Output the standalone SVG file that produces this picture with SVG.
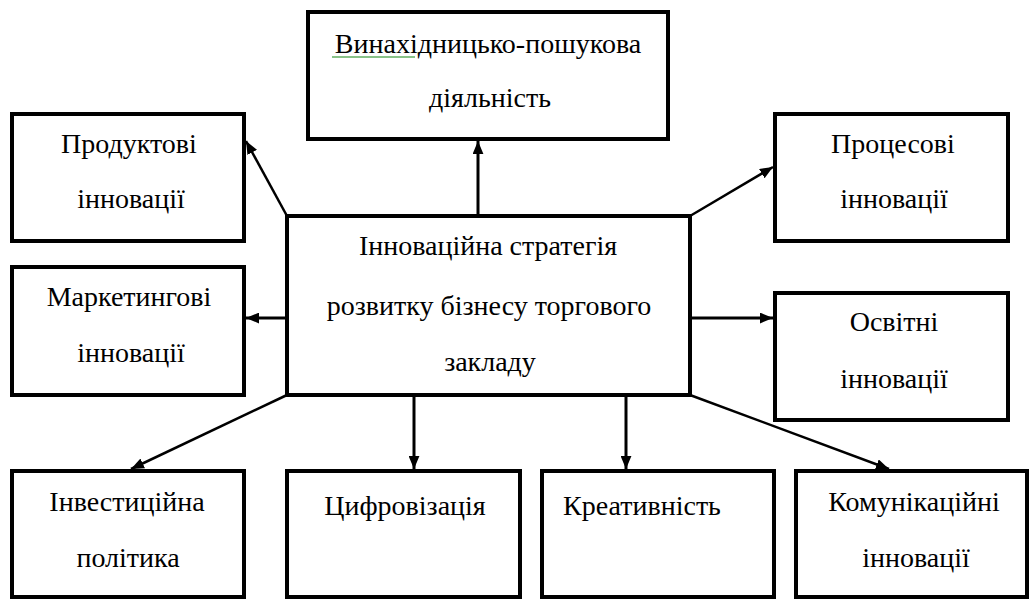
<svg xmlns="http://www.w3.org/2000/svg" width="1029" height="599" viewBox="0 0 1029 599">
<style>
.box{fill:#fff;stroke:#000;stroke-width:4}
.t{font-family:"Liberation Serif","DejaVu Serif",serif;font-size:28px;fill:#000;text-anchor:middle}
.c{stroke:#000;stroke-width:3;fill:none;marker-end:url(#ah)}
.d{stroke:#000;stroke-width:2.5;fill:none;marker-end:url(#ah)}
</style>
<defs>
<marker id="ah" viewBox="0 0 12 10" refX="12" refY="5" markerWidth="13" markerHeight="11" markerUnits="userSpaceOnUse" orient="auto">
<path d="M0,0 L12,5 L0,10 z" fill="#000"/>
</marker>
</defs>
<rect width="1029" height="599" fill="#fff"/>
<g id="connectors">
<path class="c" d="M478,216 L478,141"/>
<path class="d" d="M287,216 L246,141"/>
<path class="c" d="M287,318 L246,318"/>
<path class="d" d="M287,395 L131,469"/>
<path class="c" d="M414,395 L414,469"/>
<path class="c" d="M626,395 L626,469"/>
<path class="d" d="M690,395 L889,469"/>
<path class="c" d="M690,318 L773,318"/>
<path class="d" d="M690,216 L773,167"/>
</g>
<g id="n-top">
<rect class="box" x="308" y="12" width="360" height="127"/>
<text class="t" x="488" y="53">Винахідницько-пошукова</text>
<path d="M332,57 L415,57" stroke="#3a9a3a" stroke-width="2" opacity="0.6"/>
<text class="t" x="490" y="107">діяльність</text>
</g>
<g id="n-product">
<rect class="box" x="12" y="114" width="232" height="127"/>
<text class="t" x="129" y="153">Продуктові</text>
<text class="t" x="131" y="208">інновації</text>
</g>
<g id="n-marketing">
<rect class="box" x="12" y="267" width="232" height="128"/>
<text class="t" x="129" y="306">Маркетингові</text>
<text class="t" x="131" y="362">інновації</text>
</g>
<g id="n-process">
<rect class="box" x="775" y="114" width="233" height="127"/>
<text class="t" x="893" y="153">Процесові</text>
<text class="t" x="894" y="208">інновації</text>
</g>
<g id="n-education">
<rect class="box" x="775" y="293" width="233" height="127"/>
<text class="t" x="894" y="331">Освітні</text>
<text class="t" x="894" y="388">інновації</text>
</g>
<g id="n-center">
<rect class="box" x="287" y="216" width="403" height="179"/>
<text class="t" x="488" y="255">Інноваційна стратегія</text>
<text class="t" x="489" y="315">розвитку бізнесу торгового</text>
<text class="t" x="490" y="371">закладу</text>
</g>
<g id="n-invest">
<rect class="box" x="12" y="471" width="232" height="126"/>
<text class="t" x="127" y="511">Інвестиційна</text>
<text class="t" x="128" y="567">політика</text>
</g>
<g id="n-digital">
<rect class="box" x="287" y="471" width="233" height="126"/>
<text class="t" x="405" y="515">Цифровізація</text>
</g>
<g id="n-creative">
<rect class="box" x="542" y="471" width="232" height="126"/>
<text class="t" x="642" y="515">Креативність</text>
</g>
<g id="n-comm">
<rect class="box" x="796" y="471" width="231" height="126"/>
<text class="t" x="914" y="511">Комунікаційні</text>
<text class="t" x="916" y="567">інновації</text>
</g>
</svg>
